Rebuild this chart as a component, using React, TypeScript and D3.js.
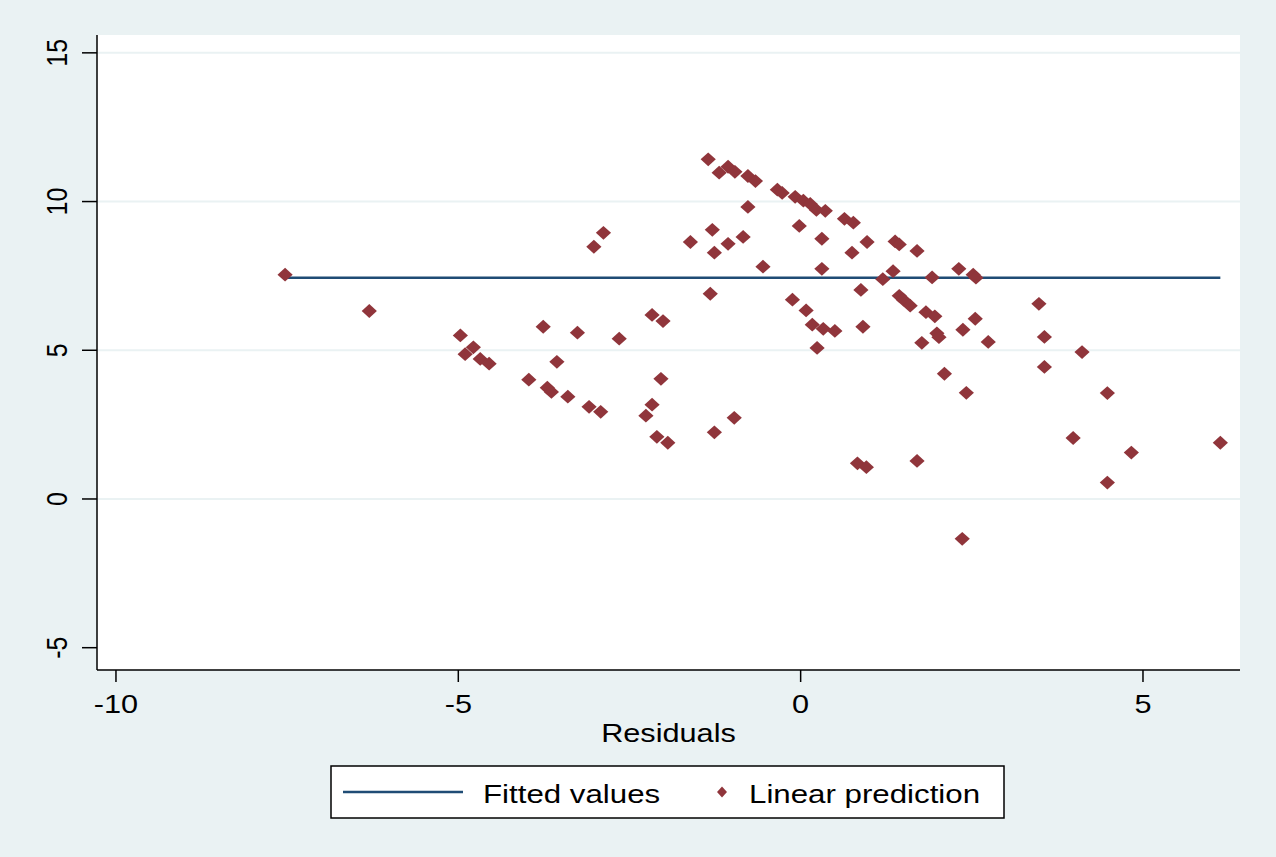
import * as d3 from 'd3'

const W = 1276
const H = 857

// Scatter: residuals (x) against the linear prediction (y)
const residuals = [
  -7.53, -6.30, -4.97, -4.90, -4.78, -4.68, -4.55, -3.97, -3.76, -3.56,
  -3.70, -3.64, -3.40, -3.26, -3.09, -2.92, -3.02, -2.88, -2.65, -2.26,
  -2.17, -2.17, -2.01, -2.04, -2.10, -1.94, -1.61, -1.35, -1.29, -1.26,
  -1.32, -1.26, -1.19, -1.06, -0.96, -1.06, -0.97, -0.84, -0.77, -0.66,
  -0.77, -0.55, -0.34, -0.27, -0.12, -0.08, -0.02, 0.04, 0.08, 0.14,
  0.17, 0.23, 0.24, 0.31, 0.31, 0.33, 0.36, 0.50, 0.64, 0.77,
  0.75, 0.83, 0.96, 0.88, 0.91, 0.97, 1.20, 1.35, 1.38, 1.44,
  1.44, 1.50, 1.60, 1.70, 1.70, 1.77, 1.83, 1.92, 1.96, 1.99,
  2.02, 2.10, 2.31, 2.37, 2.36, 2.42, 2.52, 2.56, 2.55, 2.74,
  3.48, 3.56, 3.56, 3.98, 4.11, 4.48, 4.48, 4.83, 6.13,
]
const predictions = [
  7.54, 6.32, 5.50, 4.87, 5.10, 4.71, 4.55, 4.01, 5.79, 4.61,
  3.74, 3.60, 3.44, 5.59, 3.10, 2.93, 8.48, 8.95, 5.39, 2.80,
  3.17, 6.19, 5.98, 4.04, 2.09, 1.89, 8.64, 11.42, 9.05, 8.28,
  6.90, 2.24, 10.97, 11.17, 11.00, 8.58, 2.73, 8.81, 10.86, 10.69,
  9.82, 7.81, 10.40, 10.29, 6.70, 10.16, 9.18, 10.03, 6.34, 9.92,
  5.86, 9.72, 5.08, 8.75, 7.74, 5.72, 9.69, 5.65, 9.42, 9.29,
  8.28, 1.20, 1.07, 7.03, 5.79, 8.64, 7.39, 7.66, 8.66, 8.56,
  6.83, 6.70, 6.50, 8.34, 1.28, 5.25, 6.28, 7.45, 6.14, 5.57,
  5.44, 4.21, 7.74, 5.69, -1.34, 3.57, 7.54, 7.44, 6.06, 5.28,
  6.56, 5.45, 4.44, 2.05, 4.94, 3.56, 0.55, 1.56, 1.89,
]

// Fitted values line
const fittedX = [-7.53, 6.13]
const fittedY = [7.44, 7.44]

const xTicks = [-10, -5, 0, 5]
const yTicks = [-5, 0, 5, 10, 15]
const legendLabels = ['Fitted values', 'Linear prediction']

const BG = '#eaf2f3'
const NAVY = '#1f4c75'
const MAROON = '#90353b'
const FONT = '"Liberation Sans", Arial, sans-serif'
const SX = 1.18 // the original text is stretched horizontally

const diamond = (rx: number, ry: number) => `M0,${-ry}L${rx},0L0,${ry}L${-rx},0Z`

export default function App() {
  const plot = { left: 97, right: 1240, top: 35, bottom: 670 }

  const x = d3.scaleLinear().domain([-10.277, 6.417]).range([plot.left, plot.right])
  const y = d3.scaleLinear().domain([-5.75, 15.6]).range([plot.bottom, plot.top])

  const fitLine = d3.line<number>()
    .x(d => x(d))
    .y((_, i) => y(fittedY[i]))

  const points = residuals.map((r, i) => ({ r, p: predictions[i] }))

  const legend = { x: 331, y: 766, w: 673, h: 52 }
  const legendMid = legend.y + legend.h / 2

  return (
    <svg
      width={W}
      height={H}
      style={{ position: 'absolute', left: 0, top: 0, fontFamily: FONT }}
    >
      <rect x={0} y={0} width={W} height={H} fill={BG} />
      <rect
        x={plot.left}
        y={plot.top}
        width={plot.right - plot.left}
        height={plot.bottom - plot.top}
        fill="#fff"
      />

      {/* gridlines */}
      {yTicks.slice(1).map(t => (
        <line
          key={`g${t}`}
          x1={plot.left}
          x2={plot.right}
          y1={y(t)}
          y2={y(t)}
          stroke={BG}
          strokeWidth={2}
        />
      ))}

      {/* fitted values */}
      <path d={fitLine(fittedX) || ''} fill="none" stroke={NAVY} strokeWidth={2.4} />

      {/* linear prediction markers */}
      {points.map((d, i) => (
        <path
          key={i}
          d={diamond(7.6, 6.9)}
          transform={`translate(${x(d.r)},${y(d.p)})`}
          fill={MAROON}
        />
      ))}

      {/* axes */}
      <line x1={plot.left} x2={plot.left} y1={plot.top} y2={plot.bottom} stroke="#000" strokeWidth={1.5} />
      <line x1={plot.left} x2={plot.right} y1={plot.bottom} y2={plot.bottom} stroke="#000" strokeWidth={1.5} />

      {yTicks.map(t => (
        <g key={`y${t}`}>
          <line x1={plot.left - 15} x2={plot.left} y1={y(t)} y2={y(t)} stroke="#000" strokeWidth={1.5} />
          <text
            transform={`translate(67,${y(t)}) scale(${SX},1) rotate(-90)`}
            textAnchor="middle"
            fontSize={25}
            fill="#000"
          >
            {t}
          </text>
        </g>
      ))}

      {xTicks.map(t => (
        <g key={`x${t}`}>
          <line x1={x(t)} x2={x(t)} y1={plot.bottom} y2={plot.bottom + 12} stroke="#000" strokeWidth={1.5} />
          <text
            transform={`translate(${x(t)},713) scale(${SX},1)`}
            textAnchor="middle"
            fontSize={26}
            fill="#000"
          >
            {t}
          </text>
        </g>
      ))}

      <text
        transform={`translate(${(plot.left + plot.right) / 2},742) scale(${SX},1)`}
        textAnchor="middle"
        fontSize={26}
        fill="#000"
      >
        Residuals
      </text>

      {/* legend */}
      <rect
        x={legend.x}
        y={legend.y}
        width={legend.w}
        height={legend.h}
        fill="#fff"
        stroke="#000"
        strokeWidth={1.5}
      />
      <line x1={343} x2={463} y1={legendMid} y2={legendMid} stroke={NAVY} strokeWidth={2.4} />
      <text transform={`translate(483,803) scale(${SX},1)`} fontSize={26.5} fill="#000">
        {legendLabels[0]}
      </text>
      <path d={diamond(5, 5.5)} transform={`translate(722,${legendMid})`} fill={MAROON} />
      <text transform={`translate(749,803) scale(${SX},1)`} fontSize={26.5} fill="#000">
        {legendLabels[1]}
      </text>
    </svg>
  )
}
